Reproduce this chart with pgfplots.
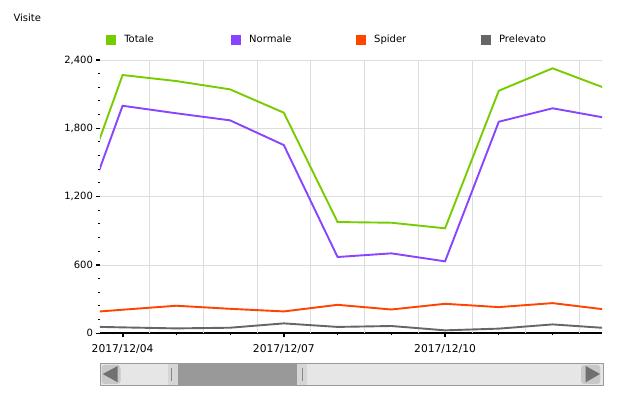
\documentclass[border=0pt]{standalone}
\usepackage{pgfplots}
\pgfplotsset{compat=1.18}
\usepackage{pgfplotstable}
\usepackage{fontspec}
\setmainfont{DejaVu Sans}
\definecolor{ctot}{HTML}{77CC00}
\definecolor{cnorm}{HTML}{8844FF}
\definecolor{cspid}{HTML}{FF4400}
\definecolor{cprel}{HTML}{666666}
\definecolor{cgrid}{HTML}{DDDDDD}
\definecolor{ctrack}{HTML}{E6E6E6}
\definecolor{cborder}{HTML}{9A9A9A}
\definecolor{cbtn}{HTML}{C8C8C8}
\definecolor{carrow}{HTML}{707070}
\definecolor{cthumb}{HTML}{999999}
\definecolor{chandle}{HTML}{D6D6D6}
\definecolor{cgrip}{HTML}{888888}

\pgfplotstableread{
day tot norm spider prel
-1 951 696 171 62
0 2268 1998 207 52
1 2215 1932 242 43
2 2142 1870 215 49
3 1937 1653 192 87
4 977 670 250 56
5 971 702 209 64
6 922 632 259 26
7 2130 1858 230 41
8 2327 1976 265 78
9 2149 1891 208 46
}\datatable

\newcommand{\chfont}{\fontsize{10}{12}\selectfont}
\newcommand{\xfont}{\fontsize{10.7}{12}\selectfont}

\begin{document}
\begin{tikzpicture}
\begin{axis}[
  scale only axis,
  width=502pt, height=273.3pt,
  xmin=-0.42, xmax=8.92,
  ymin=0, ymax=2400,
  axis x line*=bottom, axis y line*=left,
  x axis line style={-, line width=2pt, black},
  y axis line style={draw=none},
  xtick={0,3,6},
  xticklabels={2017/12/04,2017/12/07,2017/12/10},
  minor xtick={-1,0,...,9},
  extra x ticks={0.5,1.5,...,8.5},
  extra x tick labels={},
  extra x tick style={grid=major, major tick length=0pt},
  ytick={0,600,...,2400},
  minor y tick num=4,
  ymajorgrids,
  grid style={draw=cgrid, line width=0.8pt},
  tick align=outside,
  major x tick style={line width=2pt, black},
  minor x tick style={line width=1pt, black},
  major y tick style={line width=1.3pt, black},
  minor y tick style={line width=1pt, black},
  major tick length=3.5pt, minor tick length=2pt,
  tick label style={font=\chfont, black},
  xticklabel style={yshift=-4pt, font=\xfont},
  /pgf/number format/assume math mode=true,
  /pgf/number format/1000 sep={,},
  scaled y ticks=false,
  ylabel={Visite},
  ylabel style={rotate=-90, at={(axis description cs:-0.1727,1.1401)}, anchor=base west, inner sep=0pt, font=\chfont},
  legend columns=4,
  legend cell align=left,
  legend style={at={(axis description cs:0.012,1.074)}, anchor=west, draw=none, fill=none, inner sep=0pt, outer sep=0pt, font=\chfont, nodes={inner sep=0pt}, /tikz/every even column/.append style={column sep=0pt}},
  legend image code/.code={\fill[#1, draw=none] (0pt,-5pt) rectangle (9.7pt,4.7pt); \path (17.3pt,0pt);},
  no markers,
]
\addplot[ctot, line width=1.9pt] table[x=day, y=tot] {\datatable};
\addlegendentry{\makebox[106.7pt][l]{Totale}}
\addplot[cnorm, line width=1.9pt] table[x=day, y=norm] {\datatable};
\addlegendentry{\makebox[106.7pt][l]{Normale}}
\addplot[cspid, line width=1.9pt] table[x=day, y=spider] {\datatable};
\addlegendentry{\makebox[106.7pt][l]{Spider}}
\addplot[cprel, line width=1.9pt] table[x=day, y=prel] {\datatable};
\addlegendentry{Prelevato}
\end{axis}
% scrollbar
\fill[ctrack, draw=cborder, line width=1pt] (0pt,-30.4pt) rectangle (503pt,-52.4pt);
\fill[cbtn, rounded corners=3pt] (1.5pt,-31.7pt) rectangle (20.5pt,-50.7pt);
\fill[carrow] (2.7pt,-40.7pt) -- (17.7pt,-32.7pt) -- (17.7pt,-49pt) -- cycle;
\fill[cbtn, rounded corners=3pt] (481pt,-31.7pt) rectangle (500.3pt,-50.7pt);
\fill[carrow] (500pt,-40.7pt) -- (485.7pt,-32.7pt) -- (485.7pt,-49pt) -- cycle;
\fill[chandle] (68.3pt,-31pt) rectangle (78pt,-51.8pt);
\fill[chandle] (197pt,-31pt) rectangle (207pt,-51.8pt);
\fill[cthumb] (78pt,-31pt) rectangle (197pt,-51.8pt);
\draw[cgrip, line width=1pt] (71.2pt,-34.4pt) -- (71.2pt,-47.7pt);
\draw[cgrip, line width=1pt] (202.5pt,-34.4pt) -- (202.5pt,-47.7pt);
\pgfresetboundingbox
\path[use as bounding box] (-100pt,-61.7pt) rectangle (520pt,333.3pt);
\end{tikzpicture}
\end{document}
